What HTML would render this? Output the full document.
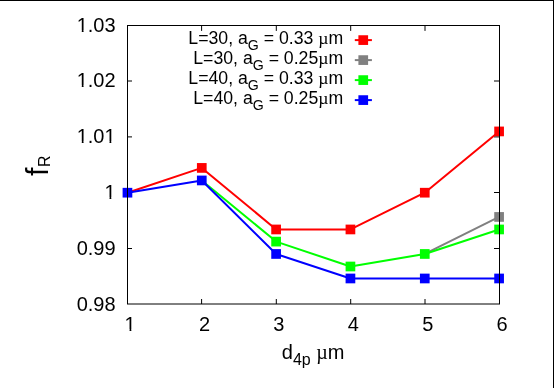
<!DOCTYPE html>
<html><head><meta charset="utf-8"><title>plot</title>
<style>
html,body{margin:0;padding:0;background:#fff;}
body{width:554px;height:388px;overflow:hidden;font-family:"Liberation Sans",sans-serif;}
svg{display:block;will-change:transform;}
text{font-family:"Liberation Sans",sans-serif;fill:#000;}
</style></head><body>
<svg width="554" height="388" viewBox="0 0 554 388">
<rect x="0" y="0" width="554" height="388" fill="#ffffff"/>
<rect x="0" y="0" width="554" height="1" fill="#000"/>
<rect x="553" y="0" width="1" height="388" fill="#000"/>
<line x1="201.60" y1="304.0" x2="201.60" y2="299.0" stroke="#000" stroke-width="1"/>
<line x1="201.60" y1="25.5" x2="201.60" y2="30.9" stroke="#000" stroke-width="1"/>
<line x1="276.30" y1="304.0" x2="276.30" y2="299.0" stroke="#000" stroke-width="1"/>
<line x1="276.30" y1="25.5" x2="276.30" y2="30.9" stroke="#000" stroke-width="1"/>
<line x1="350.70" y1="304.0" x2="350.70" y2="299.0" stroke="#000" stroke-width="1"/>
<line x1="350.70" y1="25.5" x2="350.70" y2="30.9" stroke="#000" stroke-width="1"/>
<line x1="425.00" y1="304.0" x2="425.00" y2="299.0" stroke="#000" stroke-width="1"/>
<line x1="425.00" y1="25.5" x2="425.00" y2="30.9" stroke="#000" stroke-width="1"/>
<line x1="127.5" y1="248.50" x2="132.0" y2="248.50" stroke="#000" stroke-width="1"/>
<line x1="499.5" y1="248.50" x2="494.0" y2="248.50" stroke="#000" stroke-width="1"/>
<line x1="127.5" y1="192.50" x2="132.0" y2="192.50" stroke="#000" stroke-width="1"/>
<line x1="499.5" y1="192.50" x2="494.0" y2="192.50" stroke="#000" stroke-width="1"/>
<line x1="127.5" y1="136.90" x2="132.0" y2="136.90" stroke="#000" stroke-width="1"/>
<line x1="499.5" y1="136.90" x2="494.0" y2="136.90" stroke="#000" stroke-width="1"/>
<line x1="127.5" y1="81.00" x2="132.0" y2="81.00" stroke="#000" stroke-width="1"/>
<line x1="499.5" y1="81.00" x2="494.0" y2="81.00" stroke="#000" stroke-width="1"/>
<polyline points="127.45,192.70 201.78,167.91 276.11,229.46 350.44,229.46 424.77,192.70 499.10,131.43" fill="none" stroke="#ff0000" stroke-width="2.0" stroke-linejoin="round"/>
<rect x="196.93" y="163.06" width="9.7" height="9.7" fill="#ff0000"/>
<rect x="271.26" y="224.61" width="9.7" height="9.7" fill="#ff0000"/>
<rect x="345.59" y="224.61" width="9.7" height="9.7" fill="#ff0000"/>
<rect x="419.92" y="187.85" width="9.7" height="9.7" fill="#ff0000"/>
<rect x="494.25" y="126.58" width="9.7" height="9.7" fill="#ff0000"/>
<polyline points="424.77,253.97 499.10,216.93" fill="none" stroke="#808080" stroke-width="2.0" stroke-linejoin="round"/>
<rect x="494.25" y="212.08" width="9.7" height="9.7" fill="#808080"/>
<polyline points="201.78,180.45 276.11,241.60 350.44,266.50 424.77,253.97 499.10,229.46" fill="none" stroke="#00ff00" stroke-width="2.0" stroke-linejoin="round"/>
<rect x="271.26" y="236.75" width="9.7" height="9.7" fill="#00ff00"/>
<rect x="345.59" y="261.65" width="9.7" height="9.7" fill="#00ff00"/>
<rect x="419.92" y="249.12" width="9.7" height="9.7" fill="#00ff00"/>
<rect x="494.25" y="224.61" width="9.7" height="9.7" fill="#00ff00"/>
<polyline points="127.45,192.70 201.78,180.45 276.11,253.97 350.44,278.48 424.77,278.48 499.10,278.48" fill="none" stroke="#0000ff" stroke-width="2.0" stroke-linejoin="round"/>
<rect x="122.60" y="187.85" width="9.7" height="9.7" fill="#0000ff"/>
<rect x="196.93" y="175.60" width="9.7" height="9.7" fill="#0000ff"/>
<rect x="271.26" y="249.12" width="9.7" height="9.7" fill="#0000ff"/>
<rect x="345.59" y="273.63" width="9.7" height="9.7" fill="#0000ff"/>
<rect x="419.92" y="273.63" width="9.7" height="9.7" fill="#0000ff"/>
<rect x="494.25" y="273.63" width="9.7" height="9.7" fill="#0000ff"/>
<text x="343.2" y="44.00" text-anchor="end" font-size="17.68" xml:space="preserve">L=30, a<tspan font-size="14.14" dy="5.6">G</tspan><tspan dy="-5.6"> = 0.33 <tspan font-family="Liberation Serif">µ</tspan>m</tspan></text>
<line x1="354.8" y1="40.10" x2="371.9" y2="40.10" stroke="#ff0000" stroke-width="2.0"/>
<rect x="358.40" y="35.25" width="9.7" height="9.7" fill="#ff0000"/>
<text x="343.2" y="64.00" text-anchor="end" font-size="17.68" xml:space="preserve">L=30, a<tspan font-size="14.14" dy="5.6">G</tspan><tspan dy="-5.6"> = 0.25<tspan font-family="Liberation Serif">µ</tspan>m</tspan></text>
<line x1="354.8" y1="60.10" x2="371.9" y2="60.10" stroke="#808080" stroke-width="2.0"/>
<rect x="358.40" y="55.25" width="9.7" height="9.7" fill="#808080"/>
<text x="343.2" y="84.00" text-anchor="end" font-size="17.68" xml:space="preserve">L=40, a<tspan font-size="14.14" dy="5.6">G</tspan><tspan dy="-5.6"> = 0.33 <tspan font-family="Liberation Serif">µ</tspan>m</tspan></text>
<line x1="354.8" y1="80.10" x2="371.9" y2="80.10" stroke="#00ff00" stroke-width="2.0"/>
<rect x="358.40" y="75.25" width="9.7" height="9.7" fill="#00ff00"/>
<text x="343.2" y="104.00" text-anchor="end" font-size="17.68" xml:space="preserve">L=40, a<tspan font-size="14.14" dy="5.6">G</tspan><tspan dy="-5.6"> = 0.25<tspan font-family="Liberation Serif">µ</tspan>m</tspan></text>
<line x1="354.8" y1="100.10" x2="371.9" y2="100.10" stroke="#0000ff" stroke-width="2.0"/>
<rect x="358.40" y="95.25" width="9.7" height="9.7" fill="#0000ff"/>
<rect x="127.5" y="25.5" width="372.0" height="278.5" fill="none" stroke="#000" stroke-width="1"/>
<text x="115.6" y="311" text-anchor="end" font-size="20">0.98</text>
<text x="115.6" y="255" text-anchor="end" font-size="20">0.99</text>
<text x="115.6" y="199" text-anchor="end" font-size="20">1</text>
<text x="115.6" y="143" text-anchor="end" font-size="20">1.01</text>
<text x="115.6" y="87" text-anchor="end" font-size="20">1.02</text>
<text x="115.6" y="32" text-anchor="end" font-size="20">1.03</text>
<text x="130.10" y="331" text-anchor="middle" font-size="20">1</text>
<text x="204.50" y="331" text-anchor="middle" font-size="20">2</text>
<text x="278.90" y="331" text-anchor="middle" font-size="20">3</text>
<text x="353.30" y="331" text-anchor="middle" font-size="20">4</text>
<text x="427.70" y="331" text-anchor="middle" font-size="20">5</text>
<text x="502.10" y="331" text-anchor="middle" font-size="20">6</text>
<rect x="77.50" y="30" width="4.28" height="2.5" fill="#fff"/>
<rect x="83.55" y="30" width="4.2" height="2.5" fill="#fff"/>
<rect x="77.50" y="85" width="4.28" height="2.5" fill="#fff"/>
<rect x="83.55" y="85" width="4.2" height="2.5" fill="#fff"/>
<rect x="77.50" y="141" width="4.28" height="2.5" fill="#fff"/>
<rect x="83.55" y="141" width="4.2" height="2.5" fill="#fff"/>
<rect x="105.25" y="141" width="4.28" height="2.5" fill="#fff"/>
<rect x="111.30" y="141" width="4.2" height="2.5" fill="#fff"/>
<rect x="105.25" y="197" width="4.28" height="2.5" fill="#fff"/>
<rect x="111.30" y="197" width="4.2" height="2.5" fill="#fff"/>
<rect x="125.29" y="329" width="4.28" height="2.5" fill="#fff"/>
<rect x="131.34" y="329" width="4.2" height="2.5" fill="#fff"/>
<text x="313.1" y="359" text-anchor="middle" font-size="20" xml:space="preserve">d<tspan font-size="16.0" dy="6">4p</tspan><tspan dy="-6"> </tspan><tspan font-family="Liberation Serif">µ</tspan>m</text>
<g transform="translate(47.5,176) rotate(-90)"><text x="0" y="0" font-size="30.5">f<tspan font-size="16" dx="0.5" dy="2.1">R</tspan></text></g>
</svg>
</body></html>
